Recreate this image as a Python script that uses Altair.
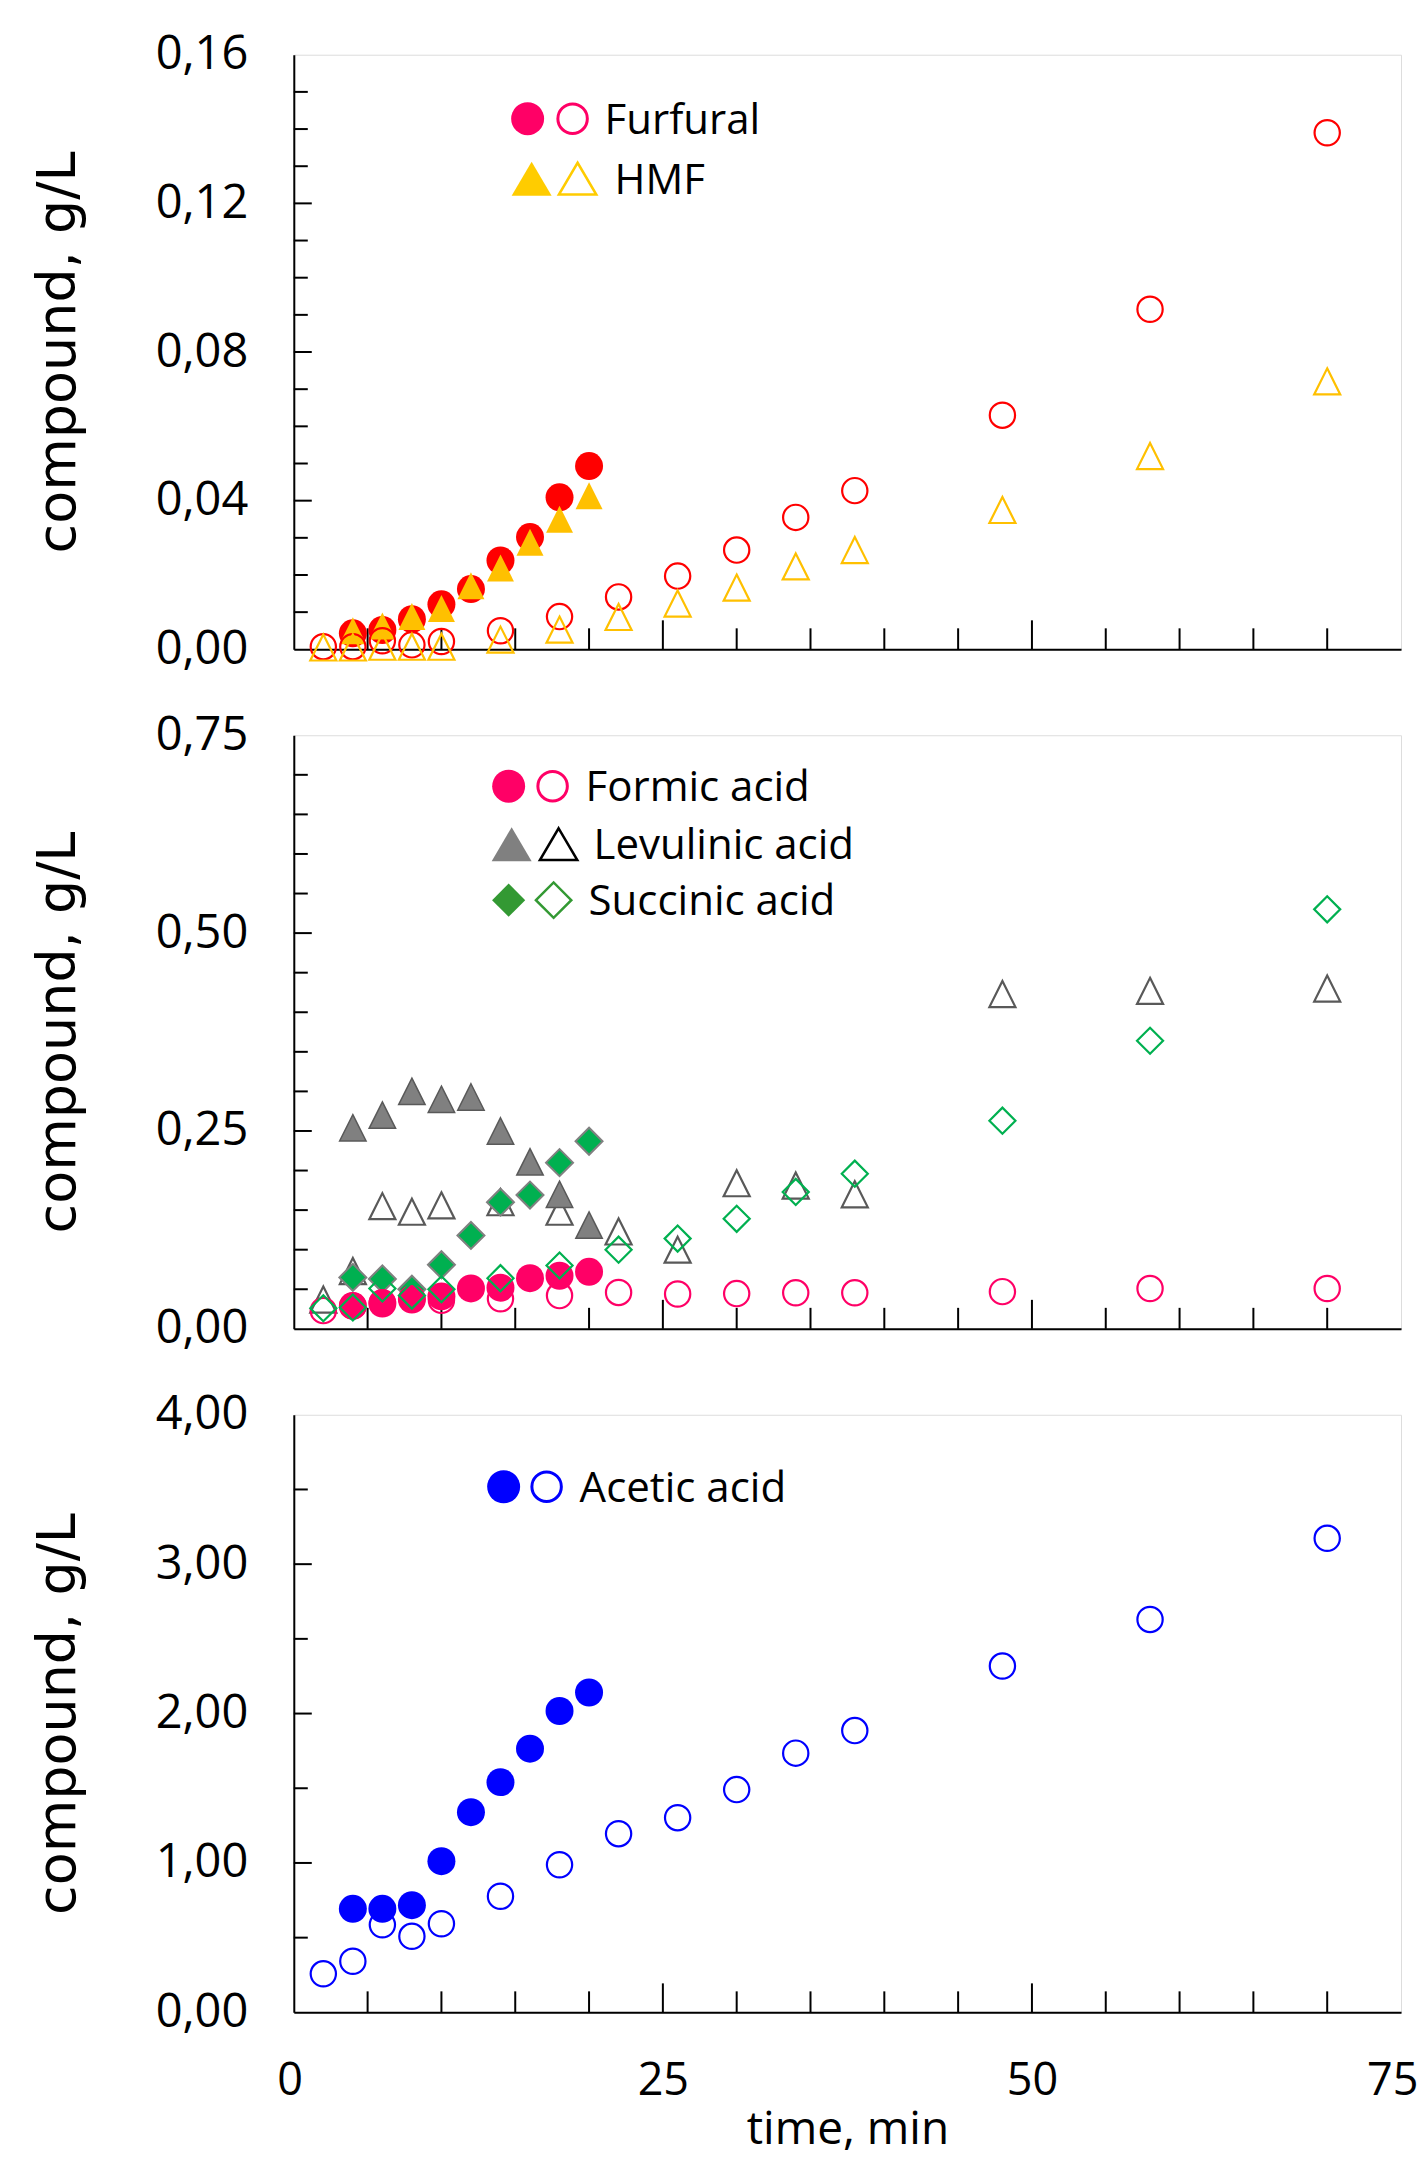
import altair as alt
import pandas as pd

# ---------------- data ----------------
t_filled = [4, 6, 8, 10, 12, 14, 16, 18, 20]
t_open = [2, 4, 6, 8, 10, 14, 18, 22, 26, 30, 34, 38, 48, 58, 70]

furfural_filled = [0.0043, 0.0052, 0.0081, 0.0121, 0.0162, 0.0239, 0.0302, 0.0409, 0.0493]
furfural_open = [0.0007, 0.0007, 0.0023, 0.0012, 0.0021, 0.0050, 0.0088, 0.0141, 0.0197,
                 0.0267, 0.0355, 0.0427, 0.0630, 0.0915, 0.1390]
hmf_filled = [0.0050, 0.0063, 0.0088, 0.0110, 0.0171, 0.0219, 0.0288, 0.0350, 0.0413]
hmf_open = [0.0005, 0.0005, 0.0007, 0.0007, 0.0007, 0.0026, 0.0053, 0.0087, 0.0123,
            0.0166, 0.0223, 0.0267, 0.0375, 0.0520, 0.0721]

formic_filled = [0.029, 0.032, 0.037, 0.041, 0.051, 0.052, 0.064, 0.067, 0.072]
formic_open = [0.023, 0.029, 0.033, 0.038, 0.036, 0.038, 0.042, 0.046, 0.044,
               0.0445, 0.0455, 0.0455, 0.047, 0.051, 0.051]
levulinic_filled = [0.254, 0.270, 0.300, 0.290, 0.293, 0.250, 0.211, 0.170, 0.131]
levulinic_open = [0.037, 0.073, 0.155, 0.148, 0.156, 0.160, 0.148, 0.123, 0.100,
                  0.184, 0.181, 0.170, 0.423, 0.427, 0.430]
succinic_filled = [0.065, 0.063, 0.050, 0.081, 0.118, 0.160, 0.169, 0.210, 0.237]
succinic_open = [0.026, 0.027, 0.051, 0.042, 0.050, 0.064, 0.080, 0.100, 0.114,
                 0.139, 0.173, 0.196, 0.263, 0.364, 0.530]

acetic_filled = [0.693, 0.693, 0.717, 1.012, 1.340, 1.541, 1.765, 2.017, 2.141]
acetic_open = [0.258, 0.342, 0.586, 0.509, 0.593, 0.777, 0.988, 1.196, 1.303,
               1.491, 1.735, 1.886, 2.318, 2.630, 3.173]

# axis values
x_labels = [0, 25, 50, 75]
x_minor = [5, 10, 15, 20, 30, 35, 40, 45, 55, 60, 65, 70]
x_major = [25, 50]

y1_labels = [0, 0.04, 0.08, 0.12, 0.16]
y1_minor = [0.01, 0.02, 0.03, 0.05, 0.06, 0.07, 0.09, 0.10, 0.11, 0.13, 0.14, 0.15]
y2_labels = [0, 0.25, 0.50, 0.75]
y2_minor = [0.05, 0.10, 0.15, 0.20, 0.30, 0.35, 0.40, 0.45, 0.55, 0.60, 0.65, 0.70]
y3_labels = [0, 1, 2, 3, 4]
y3_minor = [0.5, 1.5, 2.5, 3.5]

legend1 = ["Furfural", "HMF"]
legend2 = ["Formic acid", "Levulinic acid", "Succinic acid"]
legend3 = ["Acetic acid"]

# ---------------- styling ----------------
W = 1108
LABEL_FONT = "Open Sans"
TITLE_FONT = "DejaVu Sans"
TRI = "M0,-1L1,1L-1,1Z"
TRI_LEG = "M0,-0.85L1,0.85L-1,0.85Z"


def df(times, values):
    return pd.DataFrame({"t": times, "v": values})


def make_panel(ymax, ylabels, yminor, layers, legend_layers, show_x, H):
    xscale = alt.Scale(domain=[0, 75], nice=False, zero=False)
    yscale = alt.Scale(domain=[0, ymax], nice=False, zero=True)
    if show_x:
        xaxis = alt.Axis(values=x_labels, format="d", ticks=False, grid=False,
                         labelFont=LABEL_FONT, labelFontSize=45, labelColor="black",
                         labelPadding=46, labelFlush=True, labelFlushOffset=17,
                         title="time, min", titleFont=LABEL_FONT, titleFontSize=46,
                         titleFontWeight="normal", titleColor="black", titlePadding=4,
                         domainColor="black", domainWidth=2)
        xtitle = "time, min"
    else:
        xaxis = alt.Axis(labels=False, ticks=False, grid=False, title=None,
                         domainColor="black", domainWidth=2)
        xtitle = None
    yaxis = alt.Axis(values=ylabels, ticks=False, grid=False,
                     labelExpr="replace(format(datum.value, '.2f'), '.', ',')",
                     labelFont=LABEL_FONT, labelFontSize=47, labelColor="black",
                     labelPadding=46, labelFlush=False,
                     title="compound, g/L", titleFont=TITLE_FONT, titleFontSize=54,
                     titleFontWeight="normal", titleColor="black", titlePadding=70,
                     domainColor="black", domainWidth=2)
    x_enc = alt.X("t:Q", scale=xscale, axis=xaxis, title=xtitle)
    y_enc = alt.Y("v:Q", scale=yscale, axis=yaxis, title="compound, g/L")

    charts = []
    # inner ticks on the x axis
    charts.append(alt.Chart(pd.DataFrame({"t": x_minor})).mark_rule(color="black", strokeWidth=2)
                  .encode(x=x_enc, y=alt.value(H), y2=alt.value(H - 21)))
    charts.append(alt.Chart(pd.DataFrame({"t": x_major})).mark_rule(color="black", strokeWidth=2)
                  .encode(x=x_enc, y=alt.value(H), y2=alt.value(H - 29)))
    # inner ticks on the y axis
    charts.append(alt.Chart(pd.DataFrame({"v": yminor})).mark_rule(color="black", strokeWidth=2)
                  .encode(y=y_enc, x=alt.value(0), x2=alt.value(14)))
    charts.append(alt.Chart(pd.DataFrame({"v": ylabels[1:-1]})).mark_rule(color="black", strokeWidth=2)
                  .encode(y=y_enc, x=alt.value(0), x2=alt.value(18)))

    for data, mark_kw in layers:
        charts.append(alt.Chart(data).mark_point(opacity=1, **mark_kw).encode(x=x_enc, y=y_enc))
    charts.extend(legend_layers)
    return alt.layer(*charts).properties(width=W, height=H)


def leg_point(x, y, **kw):
    return alt.Chart(pd.DataFrame({"k": [0]})).mark_point(opacity=1, **kw).encode(
        x=alt.value(x), y=alt.value(y))


def leg_text(label, x, y):
    return alt.Chart(pd.DataFrame({"label": [label]})).mark_text(
        align="left", baseline="middle", font=LABEL_FONT, fontSize=42, color="black"
    ).encode(x=alt.value(x), y=alt.value(y), text="label:N")


# ---------------- panel 1 : furfural / HMF ----------------
RED, GOLD, PINK = "#FF0000", "#FFC000", "#FF0066"
p1_layers = [
    (df(t_filled, furfural_filled), dict(shape="circle", filled=True, fill=RED, size=784)),
    (df(t_filled, hmf_filled), dict(shape=TRI, filled=True, fill=GOLD, size=729)),
    (df(t_open, furfural_open), dict(shape="circle", filled=False, color=RED, strokeWidth=2.2, size=640)),
    (df(t_open, hmf_open), dict(shape=TRI, filled=False, color=GOLD, strokeWidth=2.2, size=680)),
]
p1_leg = [
    leg_point(234, 64, shape="circle", filled=True, fill=PINK, size=1089),
    leg_point(279, 64, shape="circle", filled=False, color=PINK, strokeWidth=3, size=870),
    leg_text(legend1[0], 311, 66),
    leg_point(238, 124, shape=TRI_LEG, filled=True, fill="#FFCC00", size=1600),
    leg_point(284, 124, shape=TRI_LEG, filled=False, color="#FFCC00", strokeWidth=2.5, size=1400),
    leg_text(legend1[1], 321, 126),
]
panel1 = make_panel(0.16, y1_labels, y1_minor, p1_layers, p1_leg, False, 595)

# ---------------- panel 2 : formic / levulinic / succinic ----------------
GRAY, DGRAY, GREEN = "#808080", "#595959", "#00B050"
p2_layers = [
    (df(t_open, levulinic_open), dict(shape=TRI, filled=False, color=DGRAY, strokeWidth=2.2, size=680)),
    (df(t_filled, levulinic_filled), dict(shape=TRI, filled=True, fill=GRAY, stroke=DGRAY, strokeWidth=1.5, size=700)),
    (df(t_filled, succinic_filled), dict(shape="diamond", filled=True, fill=GREEN, stroke=GRAY, strokeWidth=2, size=729)),
    (df(t_filled, formic_filled), dict(shape="circle", filled=True, fill=PINK, size=784)),
    (df(t_open, formic_open), dict(shape="circle", filled=False, color=PINK, strokeWidth=2.2, size=640)),
    (df(t_open, succinic_open), dict(shape="diamond", filled=False, color=GREEN, strokeWidth=2.2, size=680)),
]
p2_leg = [
    leg_point(215, 51, shape="circle", filled=True, fill=PINK, size=1089),
    leg_point(259, 51, shape="circle", filled=False, color=PINK, strokeWidth=3, size=870),
    leg_text(legend2[0], 292, 53),
    leg_point(218, 109, shape=TRI_LEG, filled=True, fill=GRAY, size=1600),
    leg_point(265, 109, shape=TRI_LEG, filled=False, color="black", strokeWidth=2.5, size=1400),
    leg_text(legend2[1], 300, 111),
    leg_point(215, 165, shape="diamond", filled=True, fill="#339933", size=1100),
    leg_point(260, 165, shape="diamond", filled=False, color="#339933", strokeWidth=2.5, size=1250),
    leg_text(legend2[2], 295, 167),
]
panel2 = make_panel(0.75, y2_labels, y2_minor, p2_layers, p2_leg, False, 594)

# ---------------- panel 3 : acetic ----------------
BLUE = "#0000FF"
p3_layers = [
    (df(t_open, acetic_open), dict(shape="circle", filled=False, color=BLUE, strokeWidth=2.2, size=640)),
    (df(t_filled, acetic_filled), dict(shape="circle", filled=True, fill=BLUE, size=784)),
]
p3_leg = [
    leg_point(210, 72, shape="circle", filled=True, fill=BLUE, size=1089),
    leg_point(253, 72, shape="circle", filled=False, color=BLUE, strokeWidth=3, size=870),
    leg_text(legend3[0], 286, 74),
]
panel3 = make_panel(4.0, y3_labels, y3_minor, p3_layers, p3_leg, True, 598)

chart = (
    alt.vconcat(panel1, panel2, panel3, spacing=86, bounds="flush")
    .properties(padding={"left": 22, "top": 21, "right": 0, "bottom": 12})
    .configure_view(stroke="black", strokeWidth=1.5)
    .configure(background="white")
)

chart.save("out.html", embed_options={"renderer": "svg", "actions": False})
